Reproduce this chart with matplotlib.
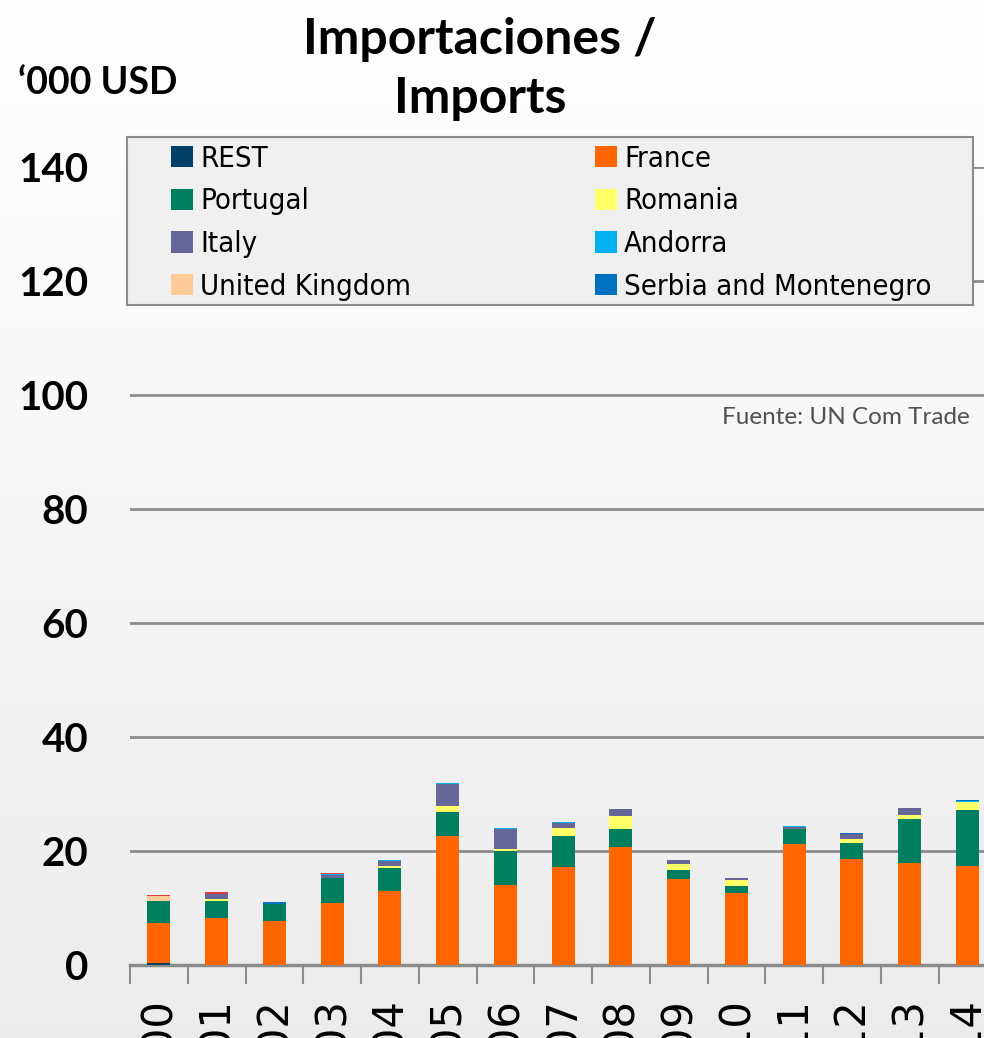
import numpy as np
import matplotlib
matplotlib.use("Agg")
import matplotlib.pyplot as plt
from matplotlib.patches import Rectangle

# values ('000 USD)
years = [str(y) for y in range(2000, 2015)]
rest = [0.35, 0, 0, 0, 0, 0, 0, 0, 0, 0, 0, 0, 0, 0, 0]
france = [7.05, 8.3, 7.8, 10.85, 12.9, 22.65, 14.0, 17.2, 20.7, 15.1, 12.55, 21.3, 18.6, 17.9, 17.35]
portugal = [3.75, 3.0, 2.9, 4.5, 4.15, 4.15, 5.95, 5.45, 3.2, 1.65, 1.35, 2.6, 2.75, 7.7, 9.8]
romania = [0, 0.3, 0, 0, 0.3, 1.05, 0.4, 1.35, 2.3, 0.95, 0.95, 0, 0.75, 0.75, 1.4]
italy = [0, 0.9, 0, 0.5, 0.9, 3.85, 3.55, 1.0, 1.2, 0.7, 0.35, 0.3, 0.9, 1.25, 0.1]
andorra = [0, 0, 0, 0.2, 0.2, 0.15, 0.15, 0.15, 0, 0, 0, 0.1, 0, 0, 0.1]
uk = [0.95, 0, 0, 0, 0, 0, 0, 0, 0, 0, 0, 0, 0, 0, 0]
serbia = [0, 0, 0.3, 0, 0, 0, 0, 0, 0, 0, 0, 0, 0.1, 0, 0.2]
other = [0.25, 0.25, 0, 0.15, 0, 0, 0, 0, 0, 0, 0, 0, 0, 0, 0]

series = [
    ("REST", rest, "#003f66"),
    ("France", france, "#ff6600"),
    ("Portugal", portugal, "#007f60"),
    ("Romania", romania, "#ffff66"),
    ("Italy", italy, "#666699"),
    ("Andorra", andorra, "#00b0f0"),
    ("United Kingdom", uk, "#ffcc99"),
    ("Serbia and Montenegro", serbia, "#0070c0"),
    ("_other", other, "#e03c3c"),
]

W, H = 984, 1038
fig = plt.figure(figsize=(W / 100, H / 100), dpi=100)

# soft vertical gradient background
bg = fig.add_axes([0, 0, 1, 1], zorder=-10)
grad = np.linspace(1.0, 0.925, 256).reshape(-1, 1)
bg.imshow(np.dstack([grad, grad, grad]), aspect="auto", extent=[0, 1, 0, 1])
bg.axis("off")

step = 57.75  # px per category
ax = fig.add_axes([130 / W, (H - 965) / H, 15 * step / W, (965 - 167) / H])
ax.patch.set_alpha(0)

x = np.arange(len(years))
bottom = np.zeros(len(years))
handles = {}
for name, vals, col in series:
    vals = np.array(vals, dtype=float)
    b = ax.bar(x, vals, 0.4, bottom=bottom, color=col, edgecolor="none", zorder=3)
    handles[name] = b
    bottom += vals

ax.set_xlim(-0.5, 14.5)
ax.set_ylim(0, 140)
ax.set_yticks(range(0, 141, 20))
ax.yaxis.grid(True, color="#8c8c8c", linewidth=2, zorder=0)
for s in ["top", "right", "left"]:
    ax.spines[s].set_visible(False)
ax.spines["bottom"].set_color("#8c8c8c")
ax.spines["bottom"].set_linewidth(2.5)
ax.tick_params(axis="y", length=0, pad=30, labelsize=29)
for lab in ax.get_yticklabels():
    lab.set_fontweight("bold")
    lab.set_fontfamily("Lato")

ax.set_xticks(np.arange(-0.5, 15.0, 1.0))
ax.set_xticklabels([])
ax.tick_params(axis="x", which="major", length=14, width=1.5, color="#8c8c8c")
ax.set_xticks(x, minor=True)
ax.set_xticklabels(years, minor=True, rotation=90, fontsize=30, family="DejaVu Sans")
ax.tick_params(axis="x", which="minor", length=0, pad=24)

# legend box drawn separately so its size can match the reference
box = Rectangle((127 / W, 1 - 305 / H), (973 - 127) / W, (305 - 137) / H,
                transform=fig.transFigure, facecolor="#f0f0f0",
                edgecolor="#8c8c8c", linewidth=1.5, zorder=5)
fig.patches.append(box)

order = ["REST", "Portugal", "Italy", "United Kingdom",
         "France", "Romania", "Andorra", "Serbia and Montenegro"]
leg = fig.legend([handles[n] for n in order], order, ncol=2,
                 loc="upper left", bbox_to_anchor=(165 / W, 1 - 139 / H),
                 prop={"family": "DejaVu Sans", "stretch": "condensed", "size": 21},
                 frameon=False, handlelength=0.75, handleheight=0.75,
                 handletextpad=0.25, columnspacing=6.3, labelspacing=0.5,
                 borderpad=0.2, borderaxespad=0)
leg.set_zorder(6)

fig.text(480 / W, 1 - 69 / H, "Importaciones /\nImports", ha="center", va="center",
         fontsize=36, fontweight="bold", family="Lato", linespacing=1.4)
fig.text(18 / W, 1 - 83 / H, "\u2018000 USD", ha="left", va="center",
         fontsize=27, fontweight="bold", family="Lato")
fig.text(970 / W, 1 - 418 / H, "Fuente: UN Com Trade", ha="right", va="center",
         fontsize=17.5, color="#505050", family="Lato")

fig.savefig("out.png", dpi=100)
